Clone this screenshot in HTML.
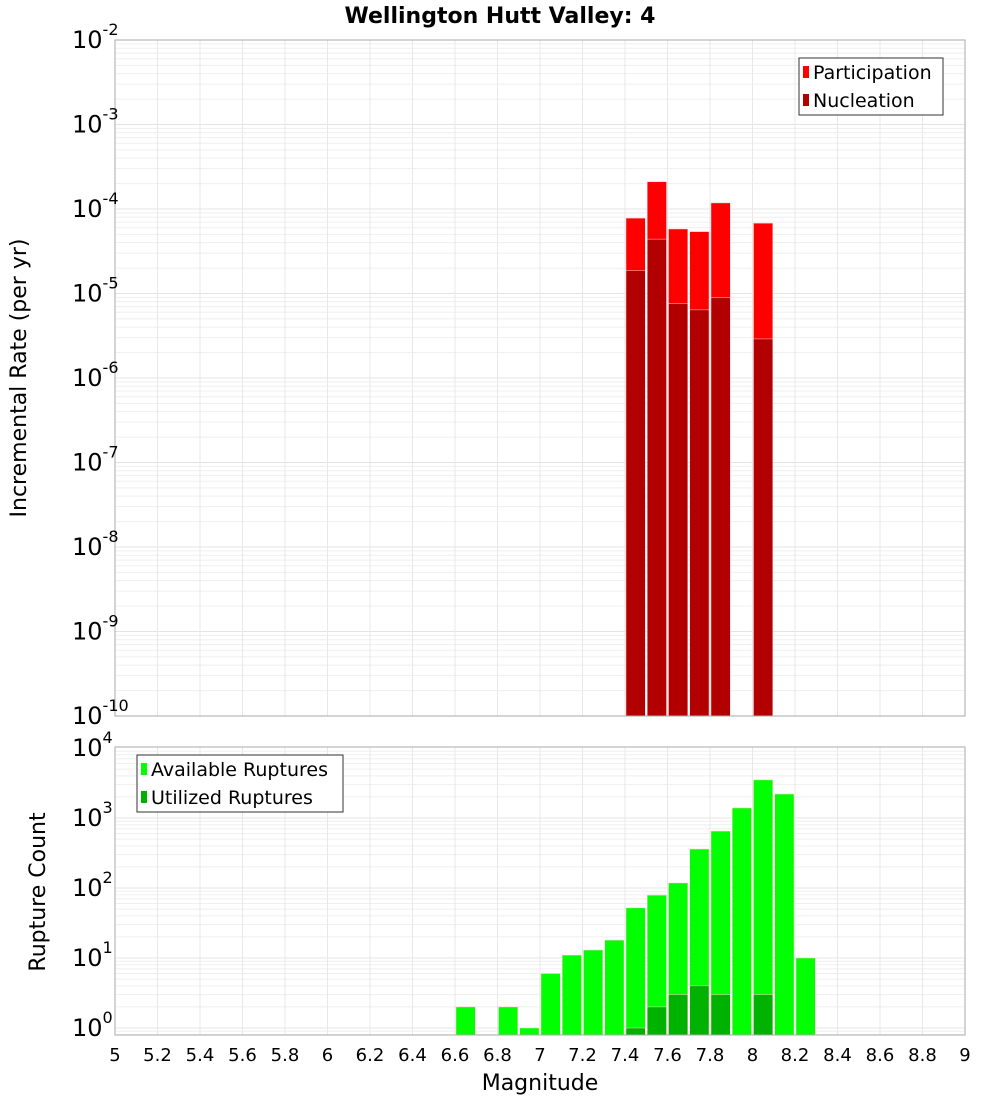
<!DOCTYPE html>
<html><head><meta charset="utf-8"><style>
body{margin:0;background:#fff;width:1000px;height:1100px;overflow:hidden}
text{font-family:"DejaVu Sans","Liberation Sans",sans-serif}
</style></head><body>
<svg id="c" width="1000" height="1100"></svg>
<script>
const bins=[7.45,7.55,7.65,7.75,7.85,8.05];
const participation=[7.8e-5,2.1e-4,5.8e-5,5.4e-5,1.18e-4,6.8e-5];
const nucleation=[1.86e-5,4.4e-5,7.6e-6,6.4e-6,8.9e-6,2.9e-6];
const availMags=[6.65,6.85,6.95,7.05,7.15,7.25,7.35,7.45,7.55,7.65,7.75,7.85,7.95,8.05,8.15,8.25];
const available=[2,2,1,6,11,13,18,52,79,118,360,650,1390,3500,2200,10];
const utilMags=[7.45,7.55,7.65,7.75,7.85,8.05];
const utilized=[1,2,3,4,3,3];
const xTicks=[5,5.2,5.4,5.6,5.8,6,6.2,6.4,6.6,6.8,7,7.2,7.4,7.6,7.8,8,8.2,8.4,8.6,8.8,9];
const topExps=[-2,-3,-4,-5,-6,-7,-8,-9,-10];
const botExps=[4,3,2,1,0];

const svg=document.getElementById('c');const NS='http://www.w3.org/2000/svg';
function el(t,a,p){const e=document.createElementNS(NS,t);for(const k in a)e.setAttribute(k,a[k]);(p||svg).appendChild(e);return e;}
const X0=115,X1=965;
const xs=v=>X0+(v-5)/4*(X1-X0);
const T0=40,T1=716;const ty=v=>T0+(-2-Math.log10(v))*(T1-T0)/8;
const B0=747,B1=1035;const by=v=>1028-Math.log10(v)*70;

function grid(y0,y1,yf,dmin,dmax){
  const g=el('g',{});
  
  for(let d=dmin;d<dmax;d++)for(let m=1;m<10;m++){const y=yf(m*Math.pow(10,d));if(y>=y0&&y<=y1)el('line',{x1:X0,x2:X1,y1:y,y2:y,stroke:m==1?'#e4e4e4':'#efefef','stroke-width':1},g);}
  xTicks.forEach(t=>{const x=xs(t);el('line',{x1:x,x2:x,y1:y0,y2:y1,stroke:'#e8e8e8'},g);});
}
grid(T0,T1,ty,-10,-1);grid(B0,B1,by,-1,4);

// title
const ti=el('text',{x:500,y:23,'text-anchor':'middle','font-size':22,'font-weight':'bold'});ti.textContent='Wellington Hutt Valley: 4';


const w=(X1-X0)/40;
function bar(m,v,yf,base,fill,name){
  const y=yf(v);const r=el('rect',{x:xs(m)-w/2+1,y:y,width:w-2,height:base-y,fill:fill,stroke:'#ffd0d0','stroke-width':0.5});
  
}
bins.forEach((m,i)=>bar(m,participation[i],ty,T1,'#ff0000','participation-bar'));
bins.forEach((m,i)=>bar(m,nucleation[i],ty,T1,'#b20000','nucleation-bar'));
availMags.forEach((m,i)=>bar(m,available[i],by,B1,'#00ff00','available-bar'));
utilMags.forEach((m,i)=>bar(m,utilized[i],by,B1,'#00b200','utilized-bar'));

// frames
el('rect',{x:X0,y:T0,width:X1-X0,height:T1-T0,fill:'none',stroke:'#aaa'});
el('rect',{x:X0,y:B0,width:X1-X0,height:B1-B0,fill:'none',stroke:'#aaa'});

function ylab(y,e){const t=el('text',{x:110,y:y+8,'text-anchor':'end','font-size':24});
  
  const a=el('tspan',{},t);a.textContent='10';const s=el('tspan',{dy:-13,'font-size':16},t);s.textContent=String(e);
  t.setAttribute('text-anchor','start');t.setAttribute('x',72);}
topExps.forEach(e=>ylab(ty(Math.pow(10,e)),e));
botExps.forEach(e=>ylab(by(Math.pow(10,e)),e));
xTicks.forEach(t=>{const tx=el('text',{x:xs(t),y:1061,'text-anchor':'middle','font-size':18});tx.textContent=String(t);
  });

const xl=el('text',{x:540,y:1090,'text-anchor':'middle','font-size':22});xl.textContent='Magnitude';

const yl=el('text',{x:0,y:0,'text-anchor':'middle','font-size':22,transform:'translate(26,378) rotate(-90)'});yl.textContent='Incremental Rate (per yr)';

const yl2=el('text',{x:0,y:0,'text-anchor':'middle','font-size':22,transform:'translate(45,892) rotate(-90)'});yl2.textContent='Rupture Count';


function legend(x,y,wd,items,name){
  const g=el('g',{});
  el('rect',{x:x,y:y,width:wd,height:57,fill:'#fff',stroke:'#333'},g);
  items.forEach((it,i)=>{const yy=y+14+i*28;
    const r=el('rect',{x:x+4,y:yy-6,width:6,height:12,fill:it[1]},g);
    
    const t=el('text',{x:x+14,y:yy+7,'font-size':19},g);t.textContent=it[0];
    });
}
legend(799,58,144,[['Participation','#ff0000'],['Nucleation','#b20000']],'top-legend');
legend(137,755,206,[['Available Ruptures','#00ff00'],['Utilized Ruptures','#00b200']],'bottom-legend');
</script>
</body></html>
